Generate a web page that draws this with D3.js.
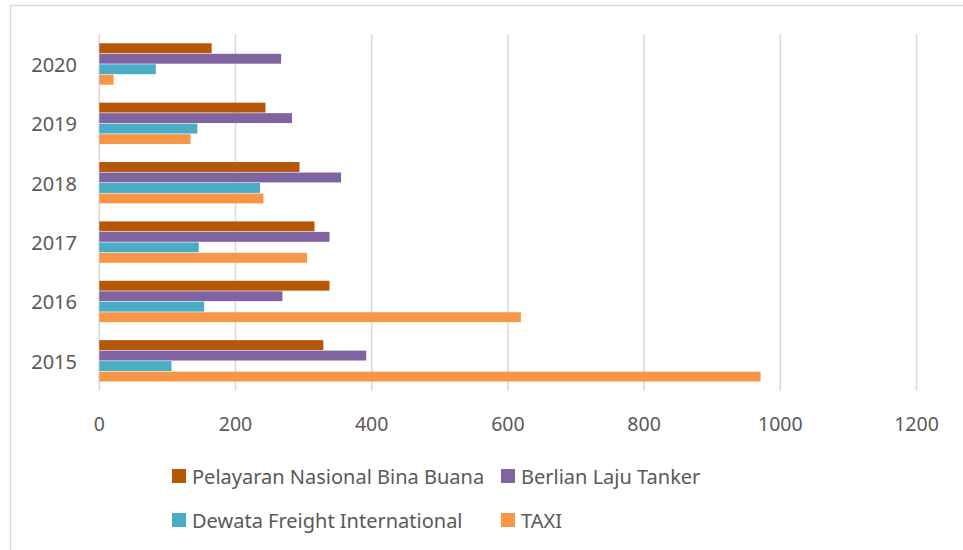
<!DOCTYPE html>
<html>
<head>
<meta charset="utf-8">
<script src="https://cdn.jsdelivr.net/npm/d3@7"></script>
<style>
  body { margin: 0; background: #fff; }
  svg { display: block; font-family: "Noto Sans", "Open Sans", sans-serif; }
</style>
</head>
<body>
<div id="chart"></div>
<script>
// Years, top to bottom as drawn
const years = ['2020', '2019', '2018', '2017', '2016', '2015'];

// Series names (in bar order within a group)
const seriesNames = ['Pelayaran Nasional Bina Buana', 'Berlian Laju Tanker', 'Dewata Freight International', 'TAXI'];
const seriesColors = ['#b65708', '#8064a2', '#4bacc6', '#f79646'];

// Values per year, aligned with years[]
const pelayaran = [165, 244, 294, 316, 338, 329];
const berlian = [267, 283, 355, 338, 269, 392];
const dewata = [83, 144, 236, 146, 154, 106];
const taxi = [21, 134, 241, 305, 619, 971];

const xTicks = [0, 200, 400, 600, 800, 1000, 1200];

const seriesValues = [pelayaran, berlian, dewata, taxi];

const width = 963;
const height = 550;
const margin = { top: 34.6, right: 46.5, bottom: 159.2, left: 99.3 };

const svg = d3.select('#chart')
  .append('svg')
  .attr('width', width)
  .attr('height', height);

// Chart border (top and left visible)
svg.append('path')
  .attr('d', `M10.5,${height} V5.5 H${width}`)
  .attr('fill', 'none')
  .attr('stroke', '#d9d9d9')
  .attr('stroke-width', 1.5);

const x = d3.scaleLinear()
  .domain([0, 1200])
  .range([margin.left, width - margin.right]);

const y = d3.scaleBand()
  .domain(years)
  .range([margin.top, height - margin.bottom])
  .paddingInner(0.293)
  .paddingOuter(0.1465);

const ySub = d3.scaleBand()
  .domain(d3.range(seriesNames.length))
  .range([0, y.bandwidth()]);

// Gridlines
svg.append('g')
  .selectAll('line')
  .data(xTicks)
  .join('line')
  .attr('x1', d => x(d))
  .attr('x2', d => x(d))
  .attr('y1', margin.top)
  .attr('y2', height - margin.bottom)
  .attr('stroke', '#d9d9d9')
  .attr('stroke-width', 1.5);

// Bars
const rows = years.map((year, i) => ({
  year,
  values: seriesValues.map((vals, s) => ({ s, value: vals[i] }))
}));

svg.append('g')
  .selectAll('g')
  .data(rows)
  .join('g')
  .attr('transform', d => `translate(0,${y(d.year)})`)
  .selectAll('rect')
  .data(d => d.values)
  .join('rect')
  .attr('x', x(0))
  .attr('y', d => ySub(d.s))
  .attr('width', d => x(d.value) - x(0))
  .attr('height', ySub.bandwidth() - 0.6)
  .attr('fill', d => seriesColors[d.s]);

// Y labels
svg.append('g')
  .selectAll('text')
  .data(years)
  .join('text')
  .attr('x', 77)
  .attr('y', d => y(d) + y.bandwidth() / 2)
  .attr('text-anchor', 'end')
  .attr('dominant-baseline', 'central')
  .attr('fill', '#595959')
  .attr('font-size', '20px')
  .text(d => d);

// X labels
svg.append('g')
  .selectAll('text')
  .data(xTicks)
  .join('text')
  .attr('x', d => x(d))
  .attr('y', 423)
  .attr('text-anchor', 'middle')
  .attr('dominant-baseline', 'central')
  .attr('fill', '#595959')
  .attr('font-size', '19.5px')
  .text(d => d);

// Legend
const legendPos = [
  { x: 172, y: 476 },
  { x: 501, y: 476 },
  { x: 172, y: 520 },
  { x: 501, y: 520 }
];

const legend = svg.append('g')
  .selectAll('g')
  .data(seriesNames)
  .join('g')
  .attr('transform', (d, i) => `translate(${legendPos[i].x},${legendPos[i].y})`);

legend.append('rect')
  .attr('x', 0)
  .attr('y', -7)
  .attr('width', 14)
  .attr('height', 14)
  .attr('fill', (d, i) => seriesColors[i]);

legend.append('text')
  .attr('x', 20)
  .attr('y', 0)
  .attr('dominant-baseline', 'central')
  .attr('fill', '#595959')
  .attr('font-size', '20px')
  .text(d => d);
</script>
</body>
</html>
